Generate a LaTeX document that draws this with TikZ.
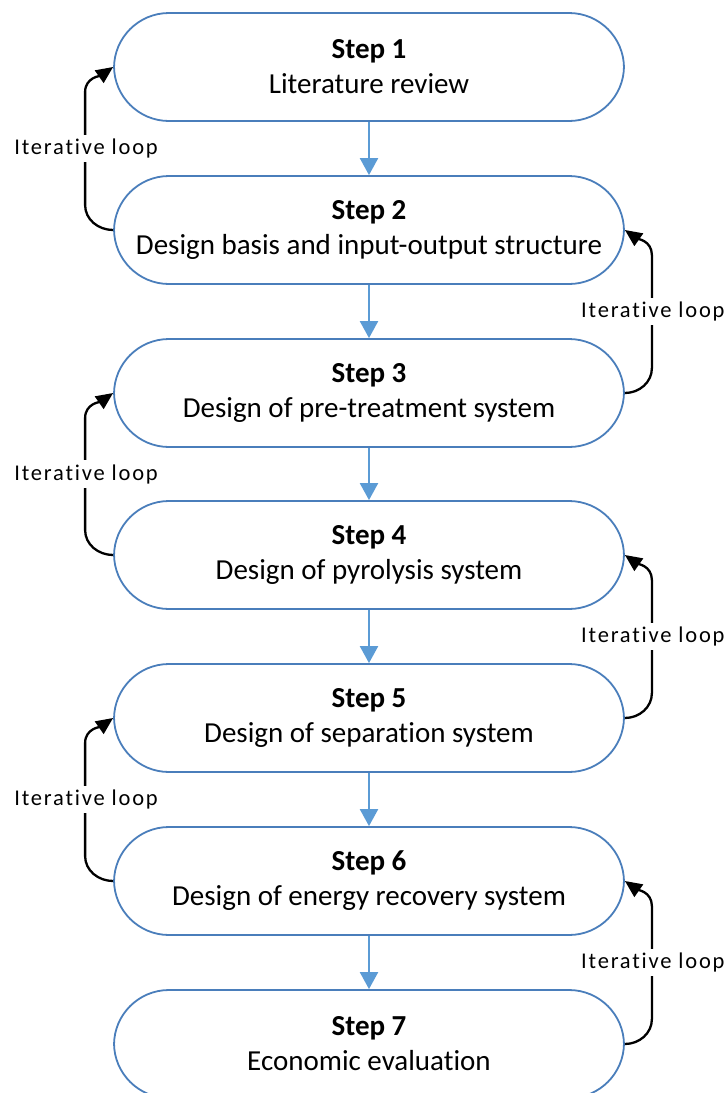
\documentclass[tikz,border=0pt]{standalone}
\usepackage{fontspec}
\setmainfont{Carlito}[Ligatures=NoCommon]
\usetikzlibrary{arrows.meta,calc}
\definecolor{boxline}{RGB}{74,126,187}
\definecolor{flowblue}{RGB}{91,155,213}
\tikzset{
  stepbox/.style={draw=boxline, line width=1.8pt, fill=white, rounded corners=55pt,
    minimum width=510pt, minimum height=108pt, align=center,
    font=\fontsize{29}{35}\selectfont},
  flow/.style={draw=flowblue, line width=2.2pt, -{Triangle[length=17pt,width=18pt]}},
  loopback/.style={draw=black, line width=2.3pt, -{Triangle[length=17pt,width=15pt]}},
  looplabel/.style={fill=white, inner sep=4pt,
    font=\fontsize{22.5}{26}\selectfont\addfontfeatures{LetterSpace=8}}
}
\begin{document}
\begin{tikzpicture}[x=1pt,y=1pt]
\useasboundingbox (0,0) rectangle (728,-1093);
% process steps
\node[stepbox] (s1) at (369,-67)   {\textbf{Step 1}\\Literature review};
\node[stepbox] (s2) at (369,-230)  {\textbf{Step 2}\\Design basis and input-output structure};
\node[stepbox] (s3) at (369,-393)  {\textbf{Step 3}\\Design of pre-treatment system};
\node[stepbox] (s4) at (369,-555)  {\textbf{Step 4}\\Design of pyrolysis system};
\node[stepbox] (s5) at (369,-718)  {\textbf{Step 5}\\Design of separation system};
\node[stepbox] (s6) at (369,-881)  {\textbf{Step 6}\\Design of energy recovery system};
\node[stepbox] (s7) at (369,-1044) {\textbf{Step 7}\\Economic evaluation};
% main flow
\foreach \a/\b in {s1/s2,s2/s3,s3/s4,s4/s5,s5/s6,s6/s7}
  \draw[flow] (\a.south) -- (\b.north);
% feedback loops on the left
\foreach \a/\b in {s2/s1,s4/s3,s6/s5}{
  \draw[loopback] (\a.west) to[out=180,in=270] ($(\a.west)+(-28,25)$)
    -- ($(\b.west)+(-28,-25)$) to[out=90,in=215] (\b.west);
  \node[looplabel] at ($(\a.west)!0.5!(\b.west)+(-27,0)$) {Iterative loop};
}
% feedback loops on the right
\foreach \a/\b in {s3/s2,s5/s4,s7/s6}{
  \draw[loopback] (\a.east) to[out=0,in=270] ($(\a.east)+(27,25)$)
    -- ($(\b.east)+(27,-25)$) to[out=90,in=-35] (\b.east);
  \node[looplabel] at ($(\a.east)!0.5!(\b.east)+(28,0)$) {Iterative loop};
}
\end{tikzpicture}
\end{document}
